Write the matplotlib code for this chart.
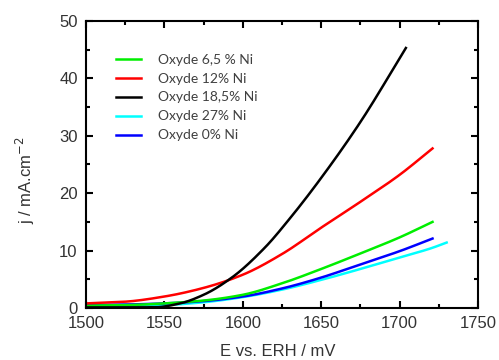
import matplotlib
matplotlib.use("Agg")
import matplotlib.pyplot as plt
from matplotlib.ticker import MultipleLocator
import matplotlib.transforms as mtransforms
import numpy as np

E_green = [1500, 1525, 1550, 1575, 1600, 1625, 1650, 1675, 1700, 1721]
j_green = [0.4, 0.5, 0.8, 1.3, 2.3, 4.3, 6.8, 9.5, 12.3, 15.0]

E_red = [1500, 1525, 1550, 1575, 1600, 1625, 1650, 1675, 1700, 1721]
j_red = [0.8, 1.1, 2.0, 3.5, 5.8, 9.4, 14.0, 18.5, 23.2, 27.8]

E_black = [1500, 1530, 1545, 1560, 1575, 1593, 1614, 1630, 1649, 1675, 1704]
j_black = [0.1, 0.1, 0.15, 0.8, 2.3, 5.3, 10.5, 15.6, 22.3, 32.4, 45.3]

E_cyan = [1500, 1525, 1550, 1575, 1600, 1625, 1650, 1675, 1700, 1720, 1730]
j_cyan = [0.2, 0.3, 0.5, 1.0, 1.9, 3.2, 4.9, 6.8, 8.8, 10.4, 11.4]

E_blue = [1500, 1525, 1550, 1575, 1600, 1625, 1650, 1675, 1700, 1721]
j_blue = [0.5, 0.6, 0.8, 1.2, 2.0, 3.4, 5.3, 7.6, 9.9, 12.1]

labels = ["Oxyde 6,5 % Ni", "Oxyde 12% Ni", "Oxyde 18,5% Ni", "Oxyde 27% Ni", "Oxyde 0% Ni"]
colors = ["#00ee00", "#ff0000", "#000000", "#00ffff", "#0000ff"]

def smooth(x, y):
    xs = np.linspace(x[0], x[-1], 200)
    x = np.asarray(x, float); y = np.asarray(y, float)
    h = np.diff(x); d = np.diff(y) / h
    m = np.zeros_like(y)
    m[0] = d[0]; m[-1] = d[-1]
    for i in range(1, len(x) - 1):
        if d[i-1] * d[i] > 0:
            w1 = 2*h[i] + h[i-1]; w2 = h[i] + 2*h[i-1]
            m[i] = (w1 + w2) / (w1/d[i-1] + w2/d[i])
    idx = np.clip(np.searchsorted(x, xs) - 1, 0, len(x) - 2)
    t = (xs - x[idx]) / h[idx]
    h00 = 2*t**3 - 3*t**2 + 1; h10 = t**3 - 2*t**2 + t
    h01 = -2*t**3 + 3*t**2; h11 = t**3 - t**2
    ys = h00*y[idx] + h10*h[idx]*m[idx] + h01*y[idx+1] + h11*h[idx]*m[idx+1]
    return xs, ys

fig = plt.figure(figsize=(4.99, 3.6), dpi=100)
ax = fig.add_axes([86/499, 1 - 308/360, (478-86)/499, (308-21)/360])

series = [(E_green, j_green), (E_red, j_red), (E_black, j_black), (E_cyan, j_cyan), (E_blue, j_blue)]
order = [3, 4, 0, 1, 2]
lines = {}
for i in order:
    x, y = series[i]
    xs, ys = smooth(x, y)
    lines[i], = ax.plot(xs, ys, color=colors[i], lw=1.8, label=labels[i])

ax.set_xlim(1500, 1750)
ax.set_ylim(0, 50)
ax.xaxis.set_major_locator(MultipleLocator(50))
ax.xaxis.set_minor_locator(MultipleLocator(25))
ax.yaxis.set_major_locator(MultipleLocator(10))
ax.yaxis.set_minor_locator(MultipleLocator(5))
ax.tick_params(which='both', direction='in', top=True, right=True, width=1.5,
               labelsize=12, labelcolor='#333333')
ax.tick_params(axis='x', pad=6)
ax.tick_params(axis='y', pad=6)
ax.tick_params(which='major', length=5)
ax.tick_params(which='minor', length=3)
for lab in ax.get_xticklabels() + ax.get_yticklabels():
    lab.set_family('Liberation Sans')
for s in ax.spines.values():
    s.set_linewidth(1.5)

fig.canvas.draw()
ylabs = ax.get_yticklabels()
ylabs[0].set_transform(ylabs[0].get_transform() +
                       mtransforms.ScaledTranslation(0, 4/100, fig.dpi_scale_trans))

ax.set_xlabel("E vs. ERH / mV", fontsize=12, family='Liberation Sans', color='#333333')
ax.set_ylabel("j / mA.cm$^{-2}$", fontsize=12, family='Liberation Sans', color='#333333')
ax.xaxis.set_label_coords(0.49, -0.125)
ax.yaxis.set_label_coords(-0.125, 0.446)

leg = ax.legend([lines[i] for i in range(5)], labels, loc='upper left',
                bbox_to_anchor=(0.045, 0.93), frameon=False, handlelength=1.8,
                handletextpad=1.2, labelspacing=0.5, prop={'family': 'Lato', 'size': 10})
for t in leg.get_texts():
    t.set_color('#404040')

fig.savefig("out.png", dpi=100)
